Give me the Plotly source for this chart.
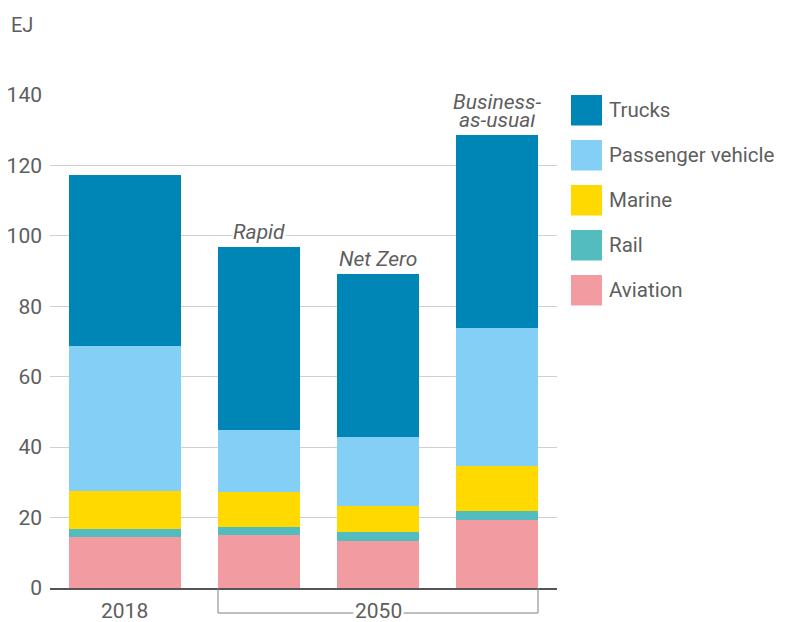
import plotly.graph_objects as go

# ---- data ----
scenarios = ["2018", "Rapid", "Net Zero", "Business-as-usual"]
aviation = [14.5, 15.0, 13.3, 19.3]
rail = [2.3, 2.3, 2.6, 2.6]
marine = [10.7, 10.0, 7.5, 12.8]
passenger = [41.2, 17.6, 19.5, 39.1]
trucks = [48.6, 51.9, 46.3, 54.9]
series_names = ["Aviation", "Rail", "Marine", "Passenger vehicle", "Trucks"]
series_values = [aviation, rail, marine, passenger, trucks]
colors = ["#F29CA2", "#52BCBF", "#FFD900", "#83CFF5", "#0086B6"]
y_ticks = [0, 20, 40, 60, 80, 100, 120, 140]
scenario_labels = [[], ["Rapid"], ["Net Zero"], ["Business-", "as-usual"]]
group_labels = ["2018", "2050"]

# ---- layout helpers (slot positions / widths) ----
x_pos = [0, 1.126, 2.126, 3.126]
widths = [0.941, 0.689, 0.689, 0.689]
x_range = [-0.630, 3.630]

W, H = 786, 622
OFF = 8  # page body margin
PL, PR, PT, PB = 50, 557, 95, 588  # plot area in screenshot pixels
plot_w = PR - PL
plot_h = PB - PT
L, T = PL - OFF, PT - OFF
R = W - (PR - OFF)
B = H - (PB - OFF)
FONT = "Roboto"
TXT = "#5e5e5e"

def px_x(p):
    return (p - PL) / plot_w

def px_y(p):
    return (PB - p) / plot_h

fig = go.Figure()
for name, vals, c in zip(series_names, series_values, colors):
    fig.add_trace(go.Bar(x=x_pos, y=vals, width=widths, name=name,
                         marker=dict(color=c, line=dict(width=0)),
                         showlegend=False, hoverinfo="y+name"))

totals = [sum(v) for v in zip(*series_values)]
annotations = []
# scenario labels (lines stacked tightly)
for xp, tot, lines in zip(x_pos, totals, scenario_labels):
    for k, line in enumerate(reversed(lines)):
        annotations.append(dict(x=xp, y=tot, xref="x", yref="y", text=f"<i>{line}</i>",
                                showarrow=False, yanchor="bottom", xanchor="center",
                                yshift=2 + 17.5 * k,
                                font=dict(family=FONT, size=21, color=TXT),
                                bgcolor="white", borderpad=0))
# group labels
annotations.append(dict(x=x_pos[0], y=px_y(611), xref="x", yref="paper",
                        text=group_labels[0], showarrow=False,
                        xanchor="center", yanchor="middle",
                        font=dict(family=FONT, size=21, color=TXT)))
annotations.append(dict(x=(x_pos[1] - widths[1] / 2 + x_pos[3] + widths[3] / 2) / 2,
                        y=px_y(611), xref="x", yref="paper",
                        text=group_labels[1], showarrow=False, bgcolor="white",
                        xanchor="center", yanchor="middle", borderpad=1,
                        font=dict(family=FONT, size=21, color=TXT)))
# EJ unit
annotations.append(dict(x=px_x(9), y=px_y(25), xref="paper", yref="paper",
                        text="EJ", showarrow=False, xanchor="left", yanchor="middle",
                        font=dict(family=FONT, size=20, color=TXT)))

shapes = []
# bracket for 2050
x_left = x_pos[1] - widths[1] / 2
x_right = x_pos[3] + widths[3] / 2
yb = px_y(613)
shapes.append(dict(type="path", xref="x", yref="paper",
                   path=f"M {x_left},0 L {x_left},{yb} L {x_right},{yb} L {x_right},0",
                   line=dict(color="#808080", width=1)))

# manual legend (top to bottom: Trucks first)
for i, (name, c) in enumerate(zip(series_names[::-1], colors[::-1])):
    top = 95 + 45 * i
    shapes.append(dict(type="rect", xref="paper", yref="paper",
                       x0=px_x(571), x1=px_x(602), y0=px_y(top + 30.5), y1=px_y(top),
                       fillcolor=c, line=dict(width=0)))
    annotations.append(dict(x=px_x(607), y=px_y(top + 15), xref="paper", yref="paper",
                            text=name, showarrow=False, xanchor="left", yanchor="middle",
                            font=dict(family=FONT, size=20.5, color=TXT)))

fig.update_layout(
    width=W, height=H,
    margin=dict(l=L, r=R, t=T, b=B, pad=0, autoexpand=False),
    barmode="stack", bargap=0,
    plot_bgcolor="white", paper_bgcolor="white",
    font=dict(family=FONT, size=20, color=TXT),
    xaxis=dict(range=x_range, showticklabels=False, ticks="", showgrid=False,
               zeroline=False, showline=True, linecolor="#555555", linewidth=1.5,
               fixedrange=True, automargin=False),
    yaxis=dict(range=[0, 140], tickvals=y_ticks, showgrid=True, gridcolor="#d0d0d0",
               gridwidth=1, zeroline=False, showline=False, ticks="",
               ticklabelstandoff=7, tickfont=dict(family=FONT, size=21, color=TXT),
               fixedrange=True, automargin=False),
    annotations=annotations,
    shapes=shapes,
    showlegend=False,
)

fig.write_html("out.html")
